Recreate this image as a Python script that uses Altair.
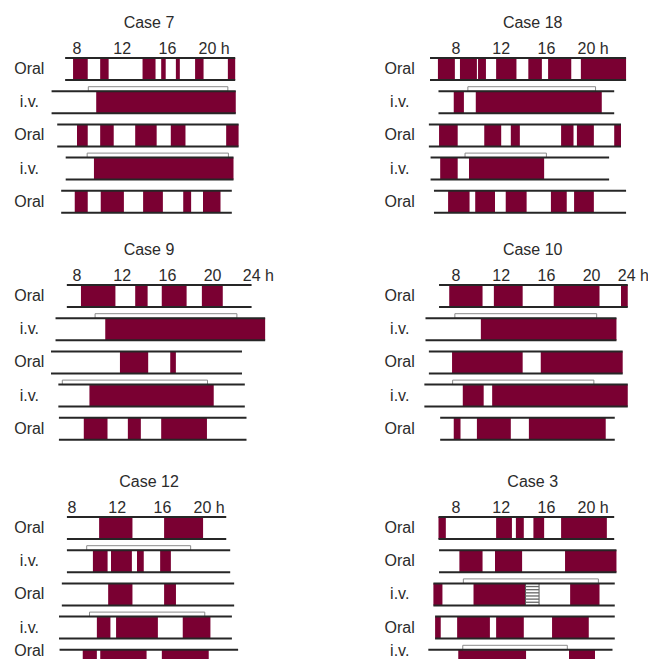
import altair as alt
import pandas as pd
import numpy as np

# ---------------- data (hours of day) ----------------
# Case 7
case7_rows = ["Oral", "i.v.", "Oral", "i.v.", "Oral"]
case7_tracks = [(6.95, 22.0), (5.75, 22.05), (6.25, 22.3), (7.0, 21.85), (6.6, 21.7)]
case7_bars = [
    [(7.65, 8.95), (10.05, 10.8), (13.8, 14.95), (15.45, 15.85), (16.75, 17.1), (18.45, 19.2), (21.35, 22.0)],
    [(9.7, 22.05)],
    [(8.0, 8.95), (10.05, 11.25), (13.15, 15.05), (16.3, 17.6), (21.2, 22.3)],
    [(9.5, 21.85)],
    [(7.8, 8.95), (10.1, 12.15), (13.85, 15.6), (17.4, 18.1), (19.15, 20.7)],
]
case7_infusion = [None, (9.0, 21.35), None, (8.9, 21.4), None]
case7_ticks = [8, 12, 16, 20]

# Case 18
case18_rows = ["Oral", "i.v.", "Oral", "i.v.", "Oral"]
case18_tracks = [(5.7, 23.05), (6.45, 22.0), (5.6, 22.6), (5.75, 21.55), (6.05, 23.05)]
case18_bars = [
    [(6.4, 7.9), (8.35, 9.85), (9.95, 10.65), (11.55, 13.35), (14.4, 15.6), (16.15, 18.2), (19.05, 23.05)],
    [(7.8, 8.7), (9.75, 20.9)],
    [(6.5, 8.15), (10.5, 12.0), (12.85, 13.65), (17.3, 18.4), (18.7, 20.2), (22.0, 22.6)],
    [(6.6, 8.15), (9.15, 15.8)],
    [(7.3, 9.2), (9.7, 11.45), (12.4, 14.25), (16.4, 17.8), (18.45, 20.2)],
]
case18_infusion = [None, (9.05, 20.35), None, (8.8, 16.0), None]
case18_ticks = [8, 12, 16, 20]

# Case 9
case9_rows = ["Oral", "i.v.", "Oral", "i.v.", "Oral"]
case9_tracks = [(7.1, 23.45), (6.1, 24.65), (5.7, 22.6), (6.35, 22.85), (6.4, 23.0)]
case9_bars = [
    [(8.35, 11.4), (13.15, 14.25), (15.5, 17.7), (19.05, 20.9)],
    [(10.5, 24.65)],
    [(11.8, 14.3), (16.25, 16.75)],
    [(9.1, 20.1)],
    [(8.6, 10.7), (12.5, 13.65), (15.45, 19.5)],
]
case9_infusion = [None, (9.6, 22.15), None, (6.7, 19.55), None]
case9_ticks = [8, 12, 16, 20, 24]

# Case 10
case10_rows = ["Oral", "i.v.", "Oral", "i.v.", "Oral"]
case10_tracks = [(6.5, 23.2), (5.3, 22.2), (5.6, 22.75), (5.2, 23.2), (6.6, 22.05)]
case10_bars = [
    [(7.4, 10.35), (11.35, 13.9), (16.65, 20.7), (22.6, 23.2)],
    [(10.2, 22.2)],
    [(7.65, 13.9), (15.5, 22.75)],
    [(8.6, 10.45), (11.2, 23.2)],
    [(7.8, 8.4), (9.85, 12.85), (14.45, 21.25)],
]
case10_infusion = [None, (7.9, 20.45), None, (7.7, 20.2), None]
case10_ticks = [8, 12, 16, 20, 24]

# Case 12
case12_rows = ["Oral", "i.v.", "Oral", "i.v.", "Oral"]
case12_tracks = [(7.55, 21.65), (7.55, 22.0), (7.1, 22.35), (6.85, 22.15), (6.9, 22.7)]
case12_bars = [
    [(10.4, 13.35), (16.15, 19.6)],
    [(9.85, 11.15), (11.45, 13.3), (13.75, 14.35), (15.8, 16.75)],
    [(11.2, 13.35), (16.15, 17.2)],
    [(10.2, 11.4), (11.9, 15.6), (17.8, 20.25)],
    [(8.95, 10.2), (10.5, 14.6), (15.95, 20.1)],
]
case12_infusion = [None, (9.3, 18.5), None, (9.55, 19.75), None]
case12_ticks = [8, 12, 16, 20]

# Case 3
case3_rows = ["Oral", "Oral", "i.v.", "Oral", "i.v."]
case3_tracks = [(6.45, 22.0), (6.5, 22.2), (6.0, 22.05), (6.15, 22.05), (5.55, 21.85)]
case3_bars = [
    [(6.45, 7.1), (11.55, 12.95), (13.3, 14.0), (14.85, 15.8), (17.3, 21.35)],
    [(8.3, 10.35), (11.45, 13.85), (17.65, 22.2)],
    [(6.0, 6.8), (9.55, 14.15), (18.1, 20.7)],
    [(6.15, 6.65), (8.1, 11.0), (11.55, 14.0), (16.5, 19.75)],
    [(8.2, 14.2), (18.0, 20.3)],
]
case3_infusion = [None, None, (8.65, 20.6), None, (8.6, 17.85)]
case3_hatch = [None, None, (14.15, 15.35), None, None]
case3_ticks = [8, 12, 16, 20]

# ---------------- styling / layout ----------------
MAROON = "#7a0032"
LINE = "#262626"
TEXT = "#2b2b2b"
OUTLINE = "#8a8a8a"
FONT = "Liberation Sans"
FS = 16

PX_PER_H = 11.3
ROW_Y0 = 61.0      # pixel centre of first row inside panel
ROW_PITCH = 33.2
HALF = 11.0 / ROW_PITCH
INF_H = 4.5 / ROW_PITCH
TITLE_Y = 20.3
TICK_Y = 45.5


def make_panel(name, rows, tracks, bars, infusion, ticks, x0, left, width, height,
               title_x, label_x, last_dx=-14, hatch=None):
    lo = 8 - (x0 - left) / PX_PER_H
    hi = lo + width / PX_PER_H
    xs = alt.Scale(domain=[lo, hi], nice=False, zero=False)
    ys = alt.Scale(domain=[-ROW_Y0 / ROW_PITCH, (height - ROW_Y0) / ROW_PITCH],
                   reverse=True, nice=False, zero=False)

    bar_df = pd.DataFrame([{"row": i, "start": s, "end": e}
                           for i, segs in enumerate(bars) for s, e in segs])
    bar_df["y1"] = bar_df["row"] - HALF
    bar_df["y2"] = bar_df["row"] + HALF

    line_recs = []
    for i, (s, e) in enumerate(tracks):
        line_recs.append({"start": s, "end": e, "y": i - HALF})
        line_recs.append({"start": s, "end": e, "y": i + HALF})
    line_df = pd.DataFrame(line_recs)

    inf_df = pd.DataFrame([{"start": v[0], "end": v[1], "y1": i - HALF - INF_H, "y2": i - HALF}
                           for i, v in enumerate(infusion) if v is not None])

    # keep a row label fully inside the panel if the panel bottom would cut it
    lab_limit = (height - 8 - ROW_Y0) / ROW_PITCH
    lab_df = pd.DataFrame({"row": [min(i, lab_limit) for i in range(len(rows))], "label": rows})
    tick_df = pd.DataFrame({"hour": ticks[:-1], "text": [str(t) for t in ticks[:-1]]})
    last_df = pd.DataFrame({"hour": [ticks[-1]], "text": [f"{ticks[-1]} h"]})
    title_df = pd.DataFrame({"t": [name]})

    X = lambda f: alt.X(f, scale=xs, axis=None)
    Y = lambda f: alt.Y(f, scale=ys, axis=None)

    layers = [
        alt.Chart(bar_df).mark_rect(color=MAROON, clip=True).encode(
            x=X("start:Q"), x2="end:Q", y=Y("y1:Q"), y2="y2:Q"),
    ]
    if hatch is not None:
        h_df = pd.DataFrame([{"start": v[0], "end": v[1], "y1": i - HALF, "y2": i + HALF}
                             for i, v in enumerate(hatch) if v is not None])
        hl = []
        for _, r in h_df.iterrows():
            for k in np.linspace(r.y1, r.y2, 8)[1:-1]:
                hl.append({"start": r.start, "end": r.end, "y": k})
        hl_df = pd.DataFrame(hl)
        layers.append(alt.Chart(h_df).mark_rect(fill="white", stroke="#555555", strokeWidth=1,
                                                clip=True).encode(
            x=X("start:Q"), x2="end:Q", y=Y("y1:Q"), y2="y2:Q"))
        layers.append(alt.Chart(hl_df).mark_rule(color="#666666", strokeWidth=1.3, clip=True).encode(
            x=X("start:Q"), x2="end:Q", y=Y("y:Q")))
    if len(inf_df):
        layers.append(alt.Chart(inf_df).mark_rect(fill="white", stroke=OUTLINE, strokeWidth=1,
                                                  clip=True).encode(
            x=X("start:Q"), x2="end:Q", y=Y("y1:Q"), y2="y2:Q"))
    layers += [
        alt.Chart(line_df).mark_rule(color=LINE, strokeWidth=2, clip=True).encode(
            x=X("start:Q"), x2="end:Q", y=Y("y:Q")),
        alt.Chart(lab_df).mark_text(font=FONT, fontSize=FS, color=TEXT, align="center",
                                    baseline="middle", clip=True).encode(
            x=alt.value(label_x), y=Y("row:Q"), text="label:N"),
        alt.Chart(tick_df).mark_text(font=FONT, fontSize=FS, color=TEXT, align="center",
                                     baseline="alphabetic").encode(
            x=X("hour:Q"), y=alt.value(TICK_Y), text="text:N"),
        alt.Chart(last_df).mark_text(font=FONT, fontSize=FS, color=TEXT, align="left",
                                     baseline="alphabetic", dx=last_dx, clip=True).encode(
            x=X("hour:Q"), y=alt.value(TICK_Y), text="text:N"),
        alt.Chart(title_df).mark_text(font=FONT, fontSize=FS, color=TEXT, align="center",
                                      baseline="alphabetic").encode(
            x=alt.value(title_x), y=alt.value(TITLE_Y), text="t:N"),
    ]
    return alt.layer(*layers).properties(width=width, height=height)


LW, RW = 320, 320
LL, RL = 8, 328
H0, H1, H2 = 227, 232, 192
LT, RT = 141, 204.7
LLAB, RLAB = 21.3, 71.7

p7 = make_panel("Case 7", case7_rows, case7_tracks, case7_bars, case7_infusion, case7_ticks,
                77, LL, LW, H0, LT, LLAB)
p18 = make_panel("Case 18", case18_rows, case18_tracks, case18_bars, case18_infusion, case18_ticks,
                 456, RL, RW, H0, RT, RLAB)
p9 = make_panel("Case 9", case9_rows, case9_tracks, case9_bars, case9_infusion, case9_ticks,
                77, LL, LW, H1, LT, LLAB, last_dx=-15)
p10 = make_panel("Case 10", case10_rows, case10_tracks, case10_bars, case10_infusion, case10_ticks,
                 456, RL, RW, H1, RT, RLAB, last_dx=-19)
p12 = make_panel("Case 12", case12_rows, case12_tracks, case12_bars, case12_infusion, case12_ticks,
                 72, LL, LW, H2, LT, LLAB)
p3 = make_panel("Case 3", case3_rows, case3_tracks, case3_bars, case3_infusion, case3_ticks,
                456, RL, RW, H2, RT, RLAB, hatch=case3_hatch)

chart = alt.concat(
    p7, p18, p9, p10, p12, p3, columns=2, spacing=0, bounds="flush",
).properties(padding=0).configure_view(stroke=None)

chart.save("out.html", embed_options={"renderer": "svg", "actions": False})
